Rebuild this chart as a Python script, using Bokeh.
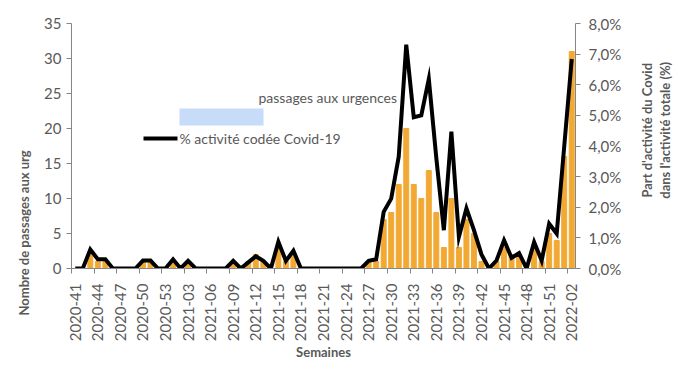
import math
from bokeh.plotting import figure
from bokeh.layouts import row
from bokeh.models import Range1d, LinearAxis, FixedTicker, Label, BoxAnnotation, ColumnDataSource, Title
from bokeh.embed import file_html
from bokeh.resources import INLINE

# ---------------- data ----------------
weeks = [
    "2020-41", "2020-42", "2020-43", "2020-44", "2020-45", "2020-46", "2020-47",
    "2020-48", "2020-49", "2020-50", "2020-51", "2020-52", "2020-53",
    "2021-01", "2021-02", "2021-03", "2021-04", "2021-05", "2021-06", "2021-07",
    "2021-08", "2021-09", "2021-10", "2021-11", "2021-12", "2021-13", "2021-14",
    "2021-15", "2021-16", "2021-17", "2021-18", "2021-19", "2021-20", "2021-21",
    "2021-22", "2021-23", "2021-24", "2021-25", "2021-26", "2021-27", "2021-28",
    "2021-29", "2021-30", "2021-31", "2021-32", "2021-33", "2021-34", "2021-35",
    "2021-36", "2021-37", "2021-38", "2021-39", "2021-40", "2021-41", "2021-42",
    "2021-43", "2021-44", "2021-45", "2021-46", "2021-47", "2021-48", "2021-49",
    "2021-50", "2021-51", "2021-52", "2022-01", "2022-02",
]
passages = [
    0, 0, 2, 1, 1, 0, 0, 0, 0, 1, 1, 0, 0,
    1, 0, 1, 0, 0, 0, 0, 0, 1, 0, 1, 2, 1, 0,
    3, 1, 2, 0, 0, 0, 0, 0, 0, 0, 0, 0, 1, 1,
    7, 8, 12, 20, 12, 10, 14, 8, 3, 10, 3, 7, 5, 1,
    0, 1, 3, 2, 2, 0, 3, 1, 5, 4, 16, 31,
]
pct_covid = [
    0.0, 0.0, 0.62, 0.30, 0.30, 0.0, 0.0, 0.0, 0.0, 0.26, 0.26, 0.0, 0.0,
    0.30, 0.0, 0.25, 0.0, 0.0, 0.0, 0.0, 0.0, 0.25, 0.0, 0.20, 0.40, 0.25, 0.0,
    0.87, 0.25, 0.58, 0.0, 0.0, 0.0, 0.0, 0.0, 0.0, 0.0, 0.0, 0.0, 0.25, 0.30,
    1.85, 2.28, 3.65, 7.31, 4.94, 5.00, 6.19, 3.60, 1.25, 4.47, 1.03, 1.96, 1.25, 0.46,
    0.0, 0.26, 0.92, 0.35, 0.50, 0.0, 0.86, 0.26, 1.46, 1.14, 3.98, 6.84,
]
left_ticks = [0, 5, 10, 15, 20, 25, 30, 35]
right_ticks = [0, 1, 2, 3, 4, 5, 6, 7, 8]
right_tick_labels = ["0,0%", "1,0%", "2,0%", "3,0%", "4,0%", "5,0%", "6,0%", "7,0%", "8,0%"]
x_label_step = 3

bar_name = "Nombre de passages aux urgences"
line_name = "% activité codée Covid-19"
left_title = "Nombre de passages aux urg"
right_title_1 = "Part d'activité du Covid"
right_title_2 = "dans l'activité totale (%)"
x_title = "Semaines"

# ---------------- style ----------------
FONT = "Lato"
GREY = "#595959"
AXIS = "#868686"
ORANGE = "#F2A933"
LEGEND_BLUE = "#C6DCF9"

W_MAIN, W_SIDE, H = 638, 40, 374

n = len(weeks)
idx = list(range(n))
src = ColumnDataSource(dict(idx=idx, week=weeks, passages=passages, pct=pct_covid))

p = figure(width=W_MAIN, height=H, output_backend="svg", toolbar_location=None,
           x_range=Range1d(-0.5, n - 0.5), y_range=Range1d(0, 35),
           min_border_left=71, min_border_right=63, min_border_top=23, min_border_bottom=106)
p.extra_y_ranges = {"pct": Range1d(0, 8)}
p.outline_line_color = None
p.xgrid.visible = False
p.ygrid.visible = False
p.background_fill_color = "white"
p.border_fill_color = "white"

p.vbar(x="idx", top="passages", width=0.66, color=ORANGE, source=src)
p.line(x="idx", y="pct", y_range_name="pct", line_color="black", line_width=4,
       line_join="miter", source=src)

# x axis
label_idx = idx[::x_label_step]
xa = p.xaxis[0]
xa.ticker = FixedTicker(ticks=label_idx, minor_ticks=[i - 0.5 for i in label_idx])
xa.major_label_overrides = {i: weeks[i] for i in label_idx}
xa.major_label_orientation = math.pi / 2
xa.major_tick_out = 0
xa.major_tick_in = 0
xa.minor_tick_out = 5
xa.minor_tick_in = 0
xa.minor_tick_line_color = AXIS
xa.axis_line_color = AXIS
xa.major_label_standoff = 10
xa.major_label_text_font = FONT
xa.major_label_text_font_size = "15px"
xa.major_label_text_color = GREY
xa.axis_label = x_title
xa.axis_label_text_font = FONT
xa.axis_label_text_font_size = "13px"
xa.axis_label_text_font_style = "bold"
xa.axis_label_text_color = GREY
xa.axis_label_standoff = 0

# left axis
ya = p.yaxis[0]
ya.ticker = FixedTicker(ticks=left_ticks)
ya.major_tick_out = 5
ya.major_tick_in = 0
ya.minor_tick_line_color = None
ya.major_tick_line_color = AXIS
ya.axis_line_color = AXIS
ya.major_label_standoff = 5
ya.major_label_text_font = FONT
ya.major_label_text_font_size = "15px"
ya.major_label_text_color = GREY

# right axis (percent)
ra = LinearAxis(y_range_name="pct", ticker=FixedTicker(ticks=right_ticks),
                major_label_overrides={t: l for t, l in zip(right_ticks, right_tick_labels)})
ra.major_tick_out = 5
ra.major_tick_in = 0
ra.minor_tick_line_color = None
ra.major_tick_line_color = AXIS
ra.axis_line_color = AXIS
ra.major_label_standoff = 8
ra.major_label_text_font = FONT
ra.major_label_text_font_size = "15px"
ra.major_label_text_color = GREY
p.add_layout(ra, "right")

# left title (shifted downwards like in the reference)
p.add_layout(Title(text=left_title, align="left", offset=-47, standoff=20,
                   text_font=FONT, text_font_size="13px", text_font_style="bold",
                   text_color=GREY), "left")

# helpers: pixel position in the reference picture -> data coordinates
FRAME_L, FRAME_R, FRAME_B, FRAME_T = 71.0, 575.0, 267.7, 23.3
def dx(px):
    return (px - FRAME_L) / (FRAME_R - FRAME_L) * n - 0.5
def dy(py):
    return (FRAME_B - py) / (FRAME_B - FRAME_T) * 35.0

# the (partly hidden) legend
p.add_layout(Label(x=dx(258), y=dy(97), text=bar_name[10:], text_align="left",
                   text_baseline="middle", text_font=FONT, text_font_size="14px",
                   text_color=GREY))
p.add_layout(BoxAnnotation(left=dx(179), right=dx(263), bottom=dy(125), top=dy(108),
                           fill_color=LEGEND_BLUE, fill_alpha=1, line_color=None))
p.add_layout(BoxAnnotation(left=dx(143), right=dx(177), bottom=dy(140), top=dy(136),
                           fill_color="black", fill_alpha=1, line_color=None))
p.add_layout(Label(x=dx(179), y=dy(138), text=line_name, text_align="left",
                   text_baseline="middle", text_font=FONT, text_font_size="14px",
                   text_color=GREY))

# narrow strip on the right carrying the two-line right-axis title (read bottom to top)
side = figure(width=W_SIDE, height=H, output_backend="svg", toolbar_location=None,
              x_range=Range1d(0, W_SIDE), y_range=Range1d(0, H),
              x_axis_location=None, y_axis_location=None, min_border=0)
side.outline_line_color = None
side.xgrid.visible = False
side.ygrid.visible = False
side.border_fill_color = "white"
for txt, px in ((right_title_1, 646), (right_title_2, 664)):
    side.add_layout(Label(x=px - W_MAIN, y=H - 163, text=txt, angle=math.pi / 2,
                          text_align="center", text_baseline="middle", text_font=FONT,
                          text_font_size="13px", text_font_style="bold", text_color=GREY))

layout = row(p, side, spacing=0)
open("out.html", "w").write(file_html(layout, INLINE))
